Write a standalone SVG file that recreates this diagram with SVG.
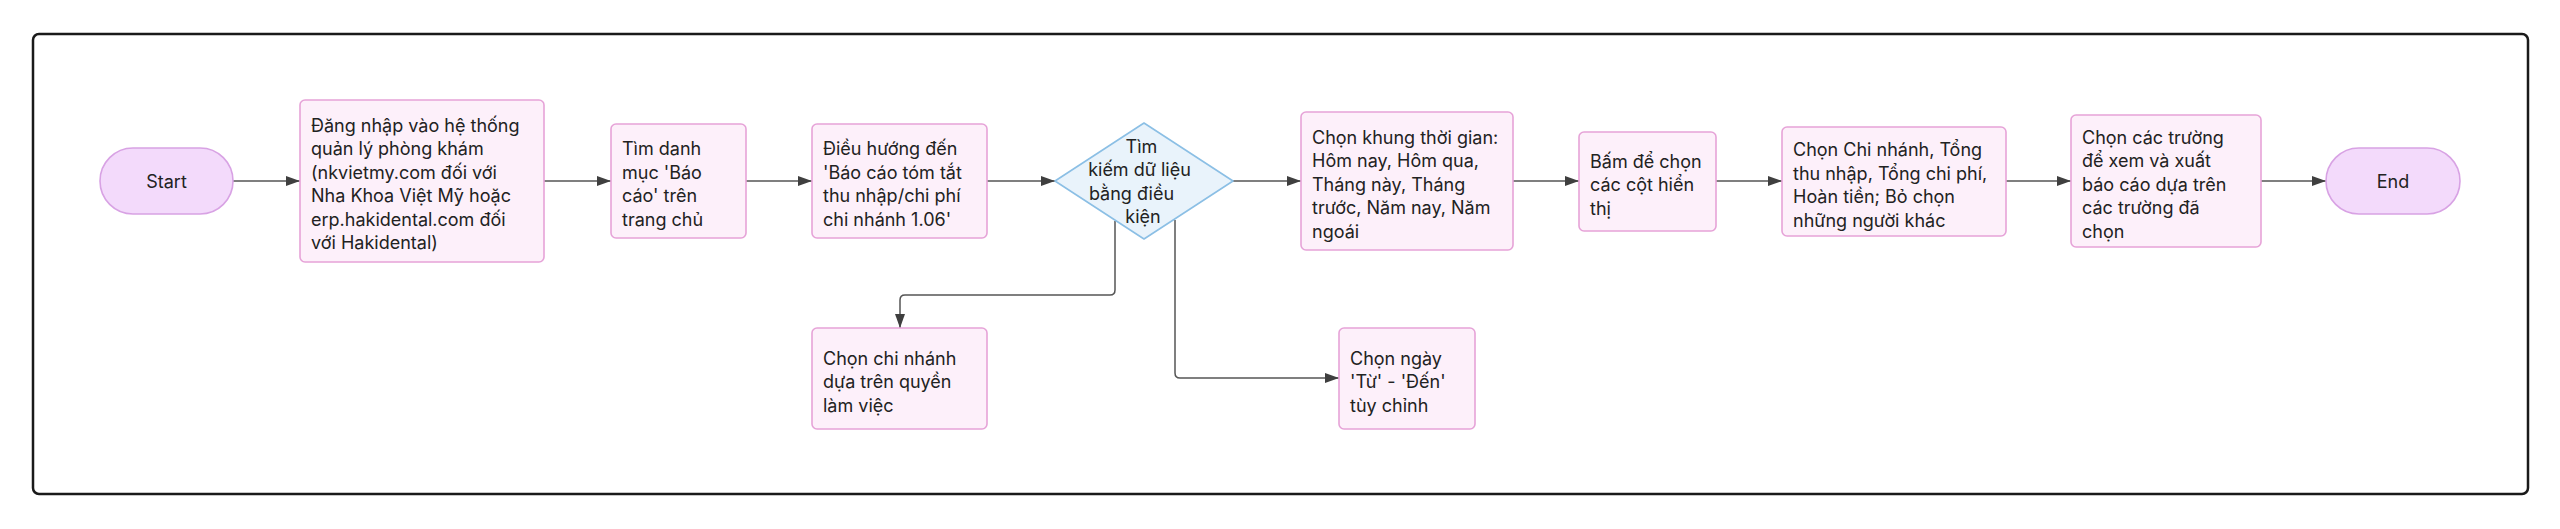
<svg xmlns="http://www.w3.org/2000/svg" width="2560" height="529" viewBox="0 0 2560 529">
  <style>
    .bg { fill: #ffffff; }
    .frame { fill: none; stroke: #1a1a1a; stroke-width: 2.5; }
    .box { fill: #fdf0fa; stroke: #e6a3d8; stroke-width: 1.6; }
    .pill { fill: #f3dafb; stroke: #d8a2e4; stroke-width: 1.6; }
    .dia { fill: #e9f3fb; stroke: #8bbfe5; stroke-width: 1.6; stroke-linejoin: round; }
    .t { font-family: Inter, "Noto Sans", "Liberation Sans", sans-serif; font-size: 18px; fill: #222222; }
    .c { text-anchor: middle; }
    .edge { fill: none; stroke: #555555; stroke-width: 1.5; }
  </style>
  <defs>
    <marker id="arr" viewBox="0 0 14 10" refX="14" refY="5" markerWidth="14" markerHeight="10" markerUnits="userSpaceOnUse" orient="auto">
      <path d="M0,0 L14,5 L0,10 z" fill="#3f3f3f"/>
    </marker>
  </defs>
  <rect class="bg" x="0" y="0" width="2560" height="529"/>
  <rect class="frame" x="33" y="34" width="2495" height="460" rx="6"/>

  <g id="edges">
    <line class="edge" x1="233" y1="181" x2="300" y2="181" marker-end="url(#arr)"/>
    <line class="edge" x1="544" y1="181" x2="611" y2="181" marker-end="url(#arr)"/>
    <line class="edge" x1="746" y1="181" x2="812" y2="181" marker-end="url(#arr)"/>
    <line class="edge" x1="987" y1="181" x2="1055" y2="181" marker-end="url(#arr)"/>
    <line class="edge" x1="1233" y1="181" x2="1301" y2="181" marker-end="url(#arr)"/>
    <line class="edge" x1="1513" y1="181" x2="1579" y2="181" marker-end="url(#arr)"/>
    <line class="edge" x1="1716" y1="181" x2="1782" y2="181" marker-end="url(#arr)"/>
    <line class="edge" x1="2006" y1="181" x2="2071" y2="181" marker-end="url(#arr)"/>
    <line class="edge" x1="2261" y1="181" x2="2326" y2="181" marker-end="url(#arr)"/>
    <path class="edge" d="M1115,221 L1115,290 Q1115,295 1110,295 L905,295 Q900,295 900,300 L900,328" marker-end="url(#arr)"/>
    <path class="edge" d="M1175,220 L1175,373 Q1175,378 1180,378 L1339,378" marker-end="url(#arr)"/>
  </g>

  <g id="start">
    <rect class="pill" x="100" y="148" width="133" height="66" rx="33"/>
    <text class="t c" x="166.5" y="187.5">Start</text>
  </g>

  <g id="login">
    <rect class="box" x="300" y="100" width="244" height="162" rx="5"/>
    <text class="t" x="311">
      <tspan x="311" y="131.75">Đăng nhập vào hệ thống</tspan>
      <tspan x="311" y="155.25">quản lý phòng khám</tspan>
      <tspan x="311" y="178.75">(nkvietmy.com đối với</tspan>
      <tspan x="311" y="202.25">Nha Khoa Việt Mỹ hoặc</tspan>
      <tspan x="311" y="225.75">erp.hakidental.com đối</tspan>
      <tspan x="311" y="249.25">với Hakidental)</tspan>
    </text>
  </g>

  <g id="menu">
    <rect class="box" x="611" y="124" width="135" height="114" rx="5"/>
    <text class="t">
      <tspan x="622" y="155.25">Tìm danh</tspan>
      <tspan x="622" y="178.75">mục 'Báo</tspan>
      <tspan x="622" y="202.25">cáo' trên</tspan>
      <tspan x="622" y="225.75">trang chủ</tspan>
    </text>
  </g>

  <g id="navigate">
    <rect class="box" x="812" y="124" width="175" height="114" rx="5"/>
    <text class="t">
      <tspan x="823" y="155.25">Điều hướng đến</tspan>
      <tspan x="823" y="178.75">'Báo cáo tóm tắt</tspan>
      <tspan x="823" y="202.25">thu nhập/chi phí</tspan>
      <tspan x="823" y="225.75">chi nhánh 1.06'</tspan>
    </text>
  </g>

  <g id="search">
    <path class="dia" d="M1144,123 L1233,181 L1144,239 L1055,181 Z"/>
    <text class="t c">
      <tspan x="1144" y="152.75">Tìm</tspan>
      <tspan x="1142" y="176.25">kiếm dữ liệu</tspan>
      <tspan x="1134" y="199.75">bằng điều</tspan>
      <tspan x="1143" y="223.25">kiện</tspan>
    </text>
  </g>

  <g id="timeframe">
    <rect class="box" x="1301" y="112" width="212" height="138" rx="5"/>
    <text class="t">
      <tspan x="1312" y="143.5">Chọn khung thời gian:</tspan>
      <tspan x="1312" y="167">Hôm nay, Hôm qua,</tspan>
      <tspan x="1312" y="190.5">Tháng này, Tháng</tspan>
      <tspan x="1312" y="214">trước, Năm nay, Năm</tspan>
      <tspan x="1312" y="237.5">ngoái</tspan>
    </text>
  </g>

  <g id="columns">
    <rect class="box" x="1579" y="132" width="137" height="99" rx="5"/>
    <text class="t">
      <tspan x="1590" y="167.5">Bấm để chọn</tspan>
      <tspan x="1590" y="191">các cột hiển</tspan>
      <tspan x="1590" y="214.5">thị</tspan>
    </text>
  </g>

  <g id="select-fields">
    <rect class="box" x="1782" y="127" width="224" height="109" rx="5"/>
    <text class="t">
      <tspan x="1793" y="156.25">Chọn Chi nhánh, Tổng</tspan>
      <tspan x="1793" y="179.75">thu nhập, Tổng chi phí,</tspan>
      <tspan x="1793" y="203.25">Hoàn tiền; Bỏ chọn</tspan>
      <tspan x="1793" y="226.75">những người khác</tspan>
    </text>
  </g>

  <g id="export">
    <rect class="box" x="2071" y="115" width="190" height="132" rx="5"/>
    <text class="t">
      <tspan x="2082" y="143.5">Chọn các trường</tspan>
      <tspan x="2082" y="167">để xem và xuất</tspan>
      <tspan x="2082" y="190.5">báo cáo dựa trên</tspan>
      <tspan x="2082" y="214">các trường đã</tspan>
      <tspan x="2082" y="237.5">chọn</tspan>
    </text>
  </g>

  <g id="end">
    <rect class="pill" x="2326" y="148" width="134" height="66" rx="33"/>
    <text class="t c" x="2393" y="187.5">End</text>
  </g>

  <g id="branch">
    <rect class="box" x="812" y="328" width="175" height="101" rx="5"/>
    <text class="t">
      <tspan x="823" y="364.5">Chọn chi nhánh</tspan>
      <tspan x="823" y="388">dựa trên quyền</tspan>
      <tspan x="823" y="411.5">làm việc</tspan>
    </text>
  </g>

  <g id="custom-date">
    <rect class="box" x="1339" y="328" width="136" height="101" rx="5"/>
    <text class="t">
      <tspan x="1350" y="364.5">Chọn ngày</tspan>
      <tspan x="1350" y="388">'Từ' - 'Đến'</tspan>
      <tspan x="1350" y="411.5">tùy chỉnh</tspan>
    </text>
  </g>
</svg>
